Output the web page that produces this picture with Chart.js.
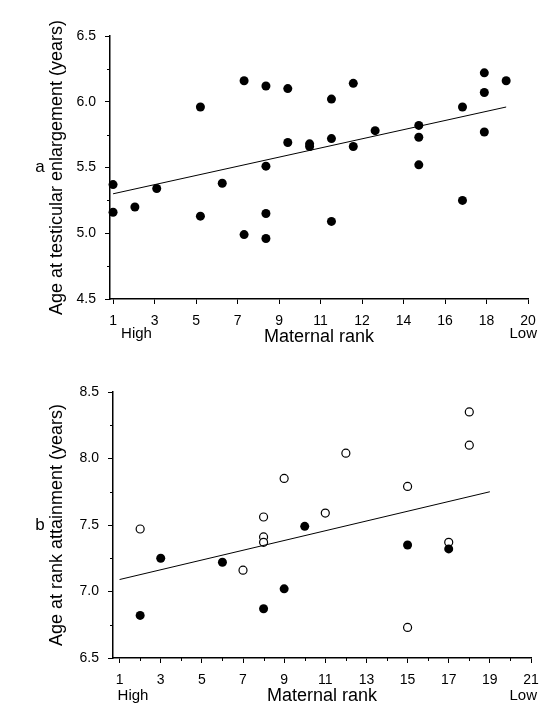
<!DOCTYPE html>
<html>
<head>
<meta charset="utf-8">
<script src="https://cdn.jsdelivr.net/npm/chart.js@4.4.0/dist/chart.umd.min.js"></script>
<style>
  body { margin: 0; background: #fff; }
  #wrap { position: relative; width: 539px; height: 707px; }
  canvas { position: absolute; left: 0; }
</style>
</head>
<body>
<div id="wrap">
  <canvas id="chartA" width="539" height="350" style="top:0px"></canvas>
  <canvas id="chartB" width="539" height="367" style="top:340px"></canvas>
</div>
<script>
// ---- panel a : age at testicular enlargement ----
const rankA = [1, 1, 2, 3, 5, 5, 6, 7, 7, 8, 8, 8, 8, 9, 9, 10, 10, 11, 11, 11, 12, 12, 13, 15, 15, 15, 17, 17, 18, 18, 18, 19];
const ageA  = [5.37, 5.16, 5.20, 5.34, 5.13, 5.96, 5.38, 4.99, 6.16, 6.12, 5.51, 5.15, 4.96, 6.10, 5.69, 5.68, 5.66, 6.02, 5.72, 5.09, 6.14, 5.66, 5.78, 5.82, 5.73, 5.52, 5.96, 5.25, 6.22, 6.07, 5.77, 6.16];
const fitRankA = [1, 19];
const fitAgeA  = [5.30, 5.96];
// the printed axis has 11 evenly spaced ticks from 1 to 20, labels rounded
const xTickValsA   = [1, 2.9, 4.8, 6.7, 8.6, 10.5, 12.4, 14.3, 16.2, 18.1, 20];
const xTickLabelsA = ['1', '3', '5', '7', '9', '11', '12', '14', '16', '18', '20'];
const yMinorA = [4.75, 5.25, 5.75, 6.25];

// ---- panel b : age at rank attainment ----
const rankOpenB = [2, 7, 8, 8, 8, 9, 11, 12, 15, 15, 17, 18, 18];
const ageOpenB  = [7.47, 7.16, 7.56, 7.41, 7.37, 7.85, 7.59, 8.04, 7.79, 6.73, 7.37, 8.35, 8.10];
const rankFilledB = [2, 3, 6, 8, 9, 10, 15, 17];
const ageFilledB  = [6.82, 7.25, 7.22, 6.87, 7.02, 7.49, 7.35, 7.32];
const fitRankB = [1, 19];
const fitAgeB  = [7.09, 7.75];
const xTickValsB   = [1, 3, 5, 7, 9, 11, 13, 15, 17, 19, 21];
const xTickLabelsB = ['1', '3', '5', '7', '9', '11', '13', '15', '17', '19', '21'];
const xMinorB = [2, 4, 6, 8, 10, 12, 14, 16, 18, 20];
const yMinorB = [6.75, 7.25, 7.75, 8.25];

Chart.defaults.font.family = "'Liberation Sans', Arial, sans-serif";
Chart.defaults.color = '#000';

const pts = (xs, ys) => xs.map((x, i) => ({ x: x, y: ys[i] }));

// small extra marks and labels: minor ticks, High / Low, panel letter
const extras = {
  id: 'extras',
  afterDraw(chart, args, opts) {
    const ctx = chart.ctx;
    const xs = chart.scales.x, ys = chart.scales.y;
    const area = chart.chartArea;
    ctx.save();
    ctx.strokeStyle = '#000';
    ctx.lineWidth = 1;
    (opts.xMinor || []).forEach(v => {
      const px = Math.round(xs.getPixelForValue(v)) + 0.5;
      ctx.beginPath(); ctx.moveTo(px, area.bottom); ctx.lineTo(px, area.bottom + 3); ctx.stroke();
    });
    (opts.yMinor || []).forEach(v => {
      const py = Math.round(ys.getPixelForValue(v)) + 0.5;
      ctx.beginPath(); ctx.moveTo(area.left, py); ctx.lineTo(area.left - 3, py); ctx.stroke();
    });
    ctx.fillStyle = '#000';
    ctx.textBaseline = 'middle';
    ctx.font = "15px 'Liberation Sans', Arial, sans-serif";
    const yb = area.bottom + opts.endLabelOffset;
    ctx.textAlign = 'left';
    ctx.fillText('High', xs.getPixelForValue(1) + opts.highInset, yb);
    ctx.textAlign = 'right';
    ctx.fillText('Low', chart.width - 2, yb);
    ctx.font = "17px 'Liberation Sans', Arial, sans-serif";
    ctx.textAlign = 'center';
    ctx.fillText(opts.letter, opts.letterX, (area.top + area.bottom) / 2);
    ctx.restore();
  }
};

function makeScales(cfg) {
  return {
    x: {
      type: 'linear',
      min: cfg.xMin, max: cfg.xMax,
      afterBuildTicks: s => { s.ticks = cfg.xTicks.map(v => ({ value: v })); },
      afterFit: s => { s.height = cfg.xHeight; s.paddingLeft = 0; s.paddingRight = 0; },
      border: { display: true, color: '#000', width: 1.5 },
      grid: { drawOnChartArea: false, drawTicks: true, tickLength: 5, color: '#000' },
      ticks: {
        autoSkip: false,
        maxRotation: 0,
        padding: 9,
        font: { size: 14 },
        callback: (v, i) => cfg.xLabels[i]
      },
      title: { display: true, text: 'Maternal rank', font: { size: 18 }, padding: 0 }
    },
    y: {
      type: 'linear',
      min: cfg.yMin, max: cfg.yMax,
      afterFit: s => { s.width = cfg.yWidth; s.paddingTop = 0; s.paddingBottom = 0; },
      border: { display: true, color: '#000', width: 1.5 },
      grid: { drawOnChartArea: false, drawTicks: true, tickLength: 5, color: '#000' },
      ticks: {
        stepSize: 0.5,
        padding: 9,
        font: { size: 14 },
        callback: v => v.toFixed(1)
      },
      title: { display: true, text: cfg.yTitle, font: { size: 18 }, padding: 0 }
    }
  };
}

// panel a
new Chart(document.getElementById('chartA'), {
  type: 'scatter',
  data: {
    datasets: [
      {
        type: 'line',
        data: pts(fitRankA, fitAgeA),
        borderColor: '#000', borderWidth: 1, pointRadius: 0, fill: false
      },
      {
        data: pts(rankA, ageA),
        backgroundColor: '#000', borderColor: '#000',
        pointRadius: 4.5, pointBorderWidth: 0, clip: false
      }
    ]
  },
  options: {
    responsive: false,
    animation: false,
    devicePixelRatio: 1,
    layout: { padding: { left: 46, right: 11, top: 36, bottom: 2.5 } },
    plugins: {
      legend: { display: false },
      tooltip: { enabled: false },
      extras: { yMinor: yMinorA, letter: 'a', letterX: 40, endLabelOffset: 35, highInset: 8 }
    },
    scales: makeScales({
      xMin: 0.86, xMax: 20, xHeight: 48.5,
      xTicks: xTickValsA, xLabels: xTickLabelsA,
      yMin: 4.5, yMax: 6.5, yWidth: 64,
      yTitle: 'Age at testicular enlargement (years)'
    })
  },
  plugins: [extras]
});

// panel b
new Chart(document.getElementById('chartB'), {
  type: 'scatter',
  data: {
    datasets: [
      {
        type: 'line',
        data: pts(fitRankB, fitAgeB),
        borderColor: '#000', borderWidth: 1, pointRadius: 0, fill: false
      },
      {
        data: pts(rankFilledB, ageFilledB),
        backgroundColor: '#000', borderColor: '#000',
        pointRadius: 4.5, pointBorderWidth: 0, clip: false
      },
      {
        data: pts(rankOpenB, ageOpenB),
        backgroundColor: '#fff', borderColor: '#000',
        pointRadius: 4, pointBorderWidth: 1.2, clip: false
      }
    ]
  },
  options: {
    responsive: false,
    animation: false,
    devicePixelRatio: 1,
    layout: { padding: { left: 46, right: 8, top: 52, bottom: 0.5 } },
    plugins: {
      legend: { display: false },
      tooltip: { enabled: false },
      extras: { xMinor: xMinorB, yMinor: yMinorB, letter: 'b', letterX: 40, endLabelOffset: 38, highInset: -2 }
    },
    scales: makeScales({
      xMin: 0.68, xMax: 21, xHeight: 48.5,
      xTicks: xTickValsB, xLabels: xTickLabelsB,
      yMin: 6.5, yMax: 8.5, yWidth: 67,
      yTitle: 'Age at rank attainment (years)'
    })
  },
  plugins: [extras]
});
</script>
</body>
</html>
